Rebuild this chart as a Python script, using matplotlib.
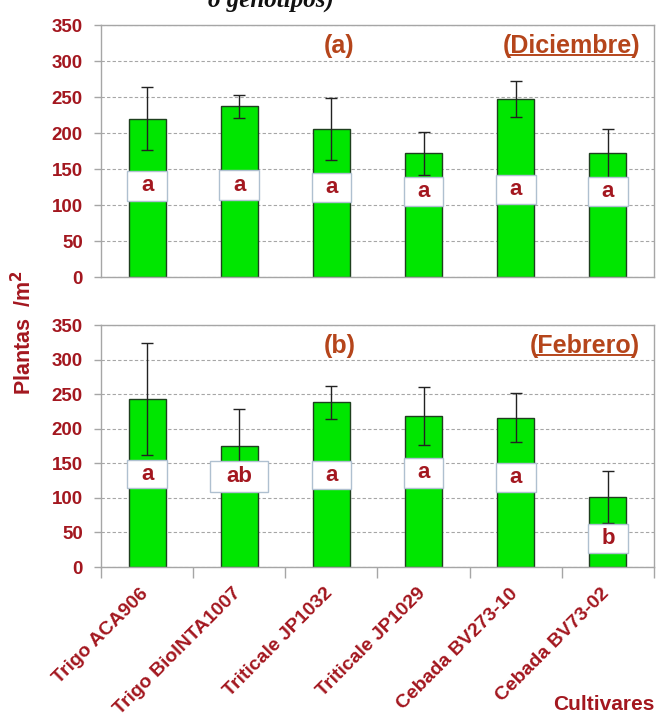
import matplotlib
matplotlib.use("Agg")
import matplotlib.pyplot as plt
from matplotlib.lines import Line2D

plt.rcParams['font.family'] = ['Liberation Sans', 'DejaVu Sans']

cultivares = ['Trigo ACA906', 'Trigo BioINTA1007', 'Triticale JP1032',
              'Triticale JP1029', 'Cebada BV273-10', 'Cebada BV73-02']

# (a) Diciembre
dic_media = [220, 237, 205, 172, 247, 172]
dic_err = [44, 16, 43, 30, 25, 34]
dic_letras = ['a', 'a', 'a', 'a', 'a', 'a']
dic_caja_inf = [106, 107, 104, 98, 101, 98]
dic_caja_sup = [147, 148, 144, 139, 141, 139]

# (b) Febrero
feb_media = [243, 175, 238, 218, 216, 101]
feb_err = [81, 53, 24, 42, 35, 38]
feb_letras = ['a', 'ab', 'a', 'a', 'a', 'b']
feb_caja_inf = [114, 108, 113, 114, 109, 20]
feb_caja_sup = [155, 154, 153, 158, 150, 62]

ROJO = '#A3171F'
NARANJA = '#B5451B'
VERDE = '#00E600'
GRIS = '#A6A6A6'

fig = plt.figure(figsize=(6.6, 7.19), dpi=100)
ax1 = fig.add_axes([101 / 660, 1 - 277 / 719, 553 / 660, 252 / 719])
ax2 = fig.add_axes([101 / 660, 1 - 567 / 719, 553 / 660, 242 / 719])

x = list(range(len(cultivares)))


def panel(ax, media, err, letras, c_inf, c_sup, etiqueta, mes):
    ax.set_axisbelow(True)
    ax.bar(x, media, width=0.40, color=VERDE, edgecolor='#1F3F1F', linewidth=1.0, zorder=2)
    ax.errorbar(x, media, yerr=err, fmt='none', ecolor='#222222', elinewidth=1.0,
                capsize=4, capthick=1.0, zorder=3)
    for i, let in enumerate(letras):
        w = 0.63 if len(let) > 1 else 0.43
        ax.bar(i, c_sup[i] - c_inf[i], bottom=c_inf[i], width=w, color='white',
               edgecolor='#AFC0D0', linewidth=1.0, zorder=4)
        ax.text(i, (c_inf[i] + c_sup[i]) / 2, let, ha='center', va='center',
                color=ROJO, fontsize=16, fontweight='bold', zorder=5)
    ax.set_xlim(-0.5, len(cultivares) - 0.5)
    ax.set_ylim(0, 350)
    ax.set_yticks(range(0, 351, 50))
    ax.yaxis.grid(True, color=GRIS, linestyle=(0, (3, 2)), linewidth=0.8)
    for s in ax.spines.values():
        s.set_color(GRIS)
        s.set_linewidth(1.0)
    ax.tick_params(axis='y', colors=GRIS, length=5, width=1.0, labelcolor=ROJO,
                   labelsize=13.5, pad=8)
    for t in ax.get_yticklabels():
        t.set_fontweight('bold')
    ax.text(0.431, 0.915, etiqueta, transform=ax.transAxes, ha='center', va='center',
            color=NARANJA, fontsize=18, fontweight='bold')
    t = ax.text(0.975, 0.915, mes, transform=ax.transAxes, ha='right', va='center',
                color=NARANJA, fontsize=18, fontweight='bold')
    return t


t1 = panel(ax1, dic_media, dic_err, dic_letras, dic_caja_inf, dic_caja_sup, '(a)', '(Diciembre)')
t2 = panel(ax2, feb_media, feb_err, feb_letras, feb_caja_inf, feb_caja_sup, '(b)', '(Febrero)')

ax1.set_xticks([])
ax2.set_xticks([i - 0.5 for i in range(len(cultivares) + 1)])
ax2.set_xticklabels([])
ax2.tick_params(axis='x', colors=GRIS, length=8, width=1.0)
for i, nombre in enumerate(cultivares):
    ax2.annotate(nombre, xy=(i, 0), xycoords='data', xytext=(-5, -13), textcoords='offset points',
                 rotation=45, ha='right', va='top', rotation_mode='anchor',
                 color=ROJO, fontsize=14, fontweight='bold', annotation_clip=False)

# subrayado del mes (sin parentesis)
fig.canvas.draw()
r = fig.canvas.get_renderer()
for t in (t1, t2):
    bb = t.get_window_extent(r)
    w_par = bb.width * 0.055
    y = bb.y0 + 3
    fig.add_artist(Line2D([bb.x0 + w_par, bb.x1 - w_par], [y, y], transform=None,
                          color=NARANJA, linewidth=1.4))

fig.text(24 / 660, 1 - 333 / 719, 'Plantas  /m$^\\mathbf{2}$', rotation=90, ha='center', va='center',
         color=ROJO, fontsize=15.5, fontweight='bold')
fig.text(655 / 660, 1 - 705 / 719, 'Cultivares', ha='right', va='center',
         color=ROJO, fontsize=15, fontweight='bold')
fig.text(334 / 660, 1.0, 'o genotipos)', ha='right', va='center', family='Liberation Serif',
         style='italic', fontweight='bold', fontsize=18, color='#111111')

fig.savefig('out.png', dpi=100)
